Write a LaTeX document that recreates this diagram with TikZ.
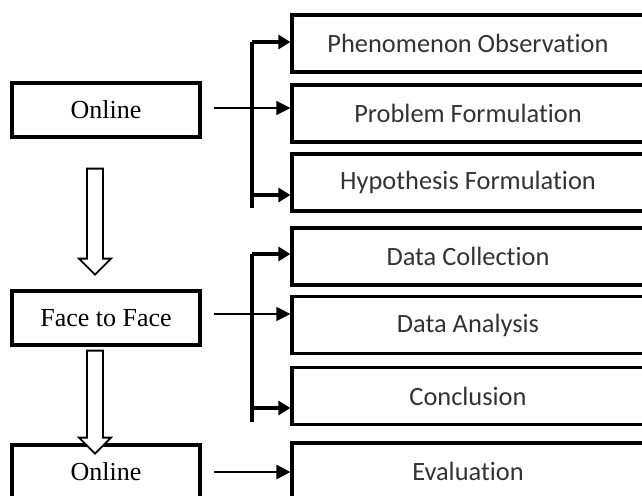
\documentclass[tikz,border=0pt]{standalone}
\usepackage{fontspec}
\setmainfont{Liberation Serif}
\newfontfamily\stepfont[Ligatures=NoCommon]{Carlito}
\usetikzlibrary{arrows.meta}
\tikzset{
	mode/.style={draw, line width=1.6pt, minimum width=94pt, minimum height=27pt, inner sep=0pt, font=\fontsize{13}{15}\selectfont},
	stage/.style={draw, line width=1.6pt, minimum width=176pt, minimum height=28.5pt, inner sep=0pt, text=black!80, font=\stepfont\fontsize{13.2}{15}\selectfont},
	thinarrow/.style={line width=0.6pt, -{Triangle[length=7pt, width=7pt]}},
	midarrow/.style={line width=1.4pt, -{Triangle[length=7pt, width=7pt]}},
	thickarrow/.style={line width=1.7pt, -{Triangle[length=6pt, width=7pt]}},
	pics/hollowarrow/.style={
		code = {
			\draw[line width=0.9pt, fill=white] (-8,0) -- (-8,#1) -- (-16,#1) -- (0,#1+16) -- (16,#1) -- (8,#1) -- (8,0) -- cycle;
		}
	}
}
\begin{document}
\begin{tikzpicture}[x=0.5pt, y=-0.5pt]

	\useasboundingbox (0,0) rectangle (642,495);
	\clip (0,0) rectangle (642,495);

	\node[mode] (on1) at (106,110) {Online};
	\node[mode] (ftf) at (106,318) {Face to Face};
	\node[mode] (on2) at (106,472) {Online};

	\node[stage] (obs) at (468,43.5) {Phenomenon Observation};
	\node[stage] (prob) at (468,113.5) {Problem Formulation};
	\node[stage] (hyp) at (468,182.5) {Hypothesis Formulation};
	\node[stage] (coll) at (468,256.5) {Data Collection};
	\node[stage] (anal) at (468,325) {Data Analysis};
	\node[stage] (conc) at (468,396) {Conclusion};
	\node[stage] (eval) at (468,471.5) {Evaluation};

	% online to face to face to online
	\pic at ([xshift=-5.5pt, yshift=-15pt]on1.south) {hollowarrow=90};
	\pic at ([xshift=-5.5pt, yshift=-2pt]ftf.south) {hollowarrow=87};

	% first bracket
	\coordinate (b1top) at (252,42);
	\coordinate (b1low) at (252,195);
	\coordinate (b1end) at (252,208);
	\draw[line width=1.7pt] (b1top) -- (b1end);
	\draw[thickarrow] (b1top) -- (b1top -| obs.west);
	\draw[thickarrow] (b1low) -- (b1low -| hyp.west);
	\draw[thinarrow] ([xshift=6pt, yshift=1pt]on1.east) -- ([yshift=1pt]on1.east -| prob.west);

	% second bracket
	\coordinate (b2top) at (252,254);
	\coordinate (b2low) at (252,408);
	\coordinate (b2end) at (252,422);
	\draw[line width=1.7pt] (b2top) -- (b2end);
	\draw[thickarrow] (b2top) -- (b2top -| coll.west);
	\draw[thickarrow] (b2low) -- (b2low -| conc.west);
	\draw[thinarrow] ([xshift=6pt, yshift=2pt]ftf.east) -- ([yshift=2pt]ftf.east -| anal.west);

	\draw[midarrow] ([xshift=6pt]on2.east) -- (on2.east -| eval.west);

\end{tikzpicture}
\end{document}
